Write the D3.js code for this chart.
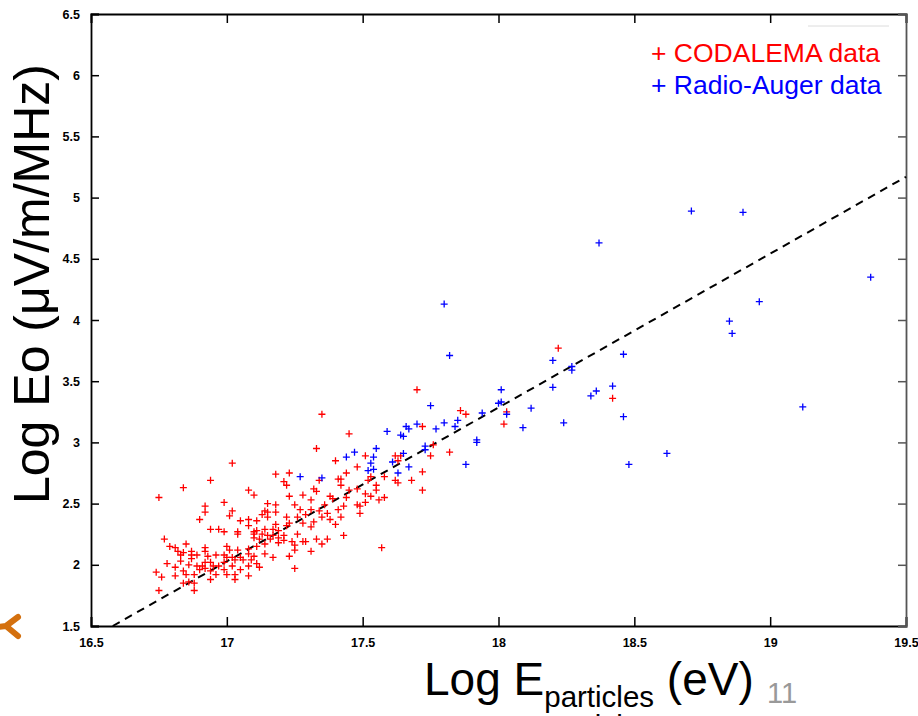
<!DOCTYPE html>
<html lang="en">
<head>
<meta charset="UTF-8" />
<title>Log Eo vs Log E</title>
<style>
  body { margin: 0; background: #fff; }
  text { font-family: Arial, "Liberation Sans", sans-serif; }
</style>
</head>
<body>
<svg width="918" height="716" id="svg"></svg>
<script src="https://cdn.jsdelivr.net/npm/d3@7"></script>
<script>
// data: [log E particles, log Eo]
const codalema = [
  [17.02,2.83],[17.18,2.74],[16.94,2.69],[16.84,2.63],[17.08,2.61],[17.10,2.57],[16.75,2.55],[16.99,2.51],
  [16.92,2.48],[17.15,2.50],[17.18,2.49],[16.92,2.43],[17.02,2.44],[17.14,2.44],[17.01,2.40],[17.15,2.43],
  [17.18,2.43],[17.13,2.41],[17.15,2.39],[16.90,2.37],[17.05,2.36],[17.08,2.37],[17.11,2.36],[17.18,2.33],
  [17.08,2.32],[16.94,2.29],[16.97,2.29],[16.99,2.27],[17.04,2.27],[17.04,2.25],[17.10,2.27],[17.11,2.28],
  [17.14,2.29],[17.17,2.29],[17.19,2.28],[17.10,2.25],[17.13,2.25],[17.15,2.24],[17.17,2.24],[16.77,2.21],
  [17.10,2.22],[17.12,2.21],[17.16,2.21],[17.19,2.22],[16.79,2.15],[16.81,2.14],[16.85,2.17],[16.82,2.11],
  [16.84,2.10],[16.87,2.11],[16.92,2.14],[16.92,2.11],[17.00,2.15],[17.01,2.12],[17.04,2.12],[17.08,2.13],
  [17.11,2.15],[17.14,2.17],[17.19,2.18],[16.83,2.08],[16.87,2.08],[16.89,2.08],[16.93,2.07],[16.96,2.08],
  [16.99,2.08],[17.00,2.06],[17.02,2.06],[17.05,2.06],[17.08,2.09],[17.10,2.07],[17.14,2.09],[17.17,2.06],
  [16.83,2.03],[16.87,2.05],[16.92,2.02],[16.94,2.02],[16.99,2.02],[17.03,2.04],[17.06,2.04],[17.09,2.04],
  [17.11,2.01],[16.78,2.01],[16.86,2.00],[16.89,1.99],[16.91,1.99],[16.95,1.99],[16.97,1.99],[17.02,1.99],
  [17.08,1.99],[17.12,1.98],[16.81,1.98],[16.74,1.94],[16.84,1.95],[16.90,1.96],[16.92,1.97],[16.94,1.95],
  [16.99,1.96],[17.05,1.96],[16.81,1.91],[16.76,1.90],[16.85,1.92],[16.88,1.92],[16.96,1.92],[17.00,1.92],
  [17.03,1.92],[17.08,1.91],[16.84,1.85],[16.86,1.86],[16.94,1.88],[17.03,1.88],[16.75,1.79],[16.88,1.85],
  [16.88,1.79],[17.25,1.97],
  [17.70,3.43],[17.86,3.26],[17.88,3.23],[17.35,3.23],[17.72,3.13],[17.45,3.07],[17.33,2.95],[17.76,2.98],
  [17.82,2.92],[17.51,2.89],[17.62,2.89],[17.64,2.89],[17.75,2.89],[17.40,2.85],[17.63,2.85],[17.48,2.80],
  [17.44,2.75],[17.23,2.75],[17.41,2.70],[17.42,2.70],[17.34,2.69],[17.53,2.72],[17.58,2.72],[17.72,2.76],
  [17.62,2.69],[17.63,2.67],[17.68,2.69],[17.52,2.69],[17.21,2.68],[17.22,2.65],[17.42,2.65],[17.55,2.65],
  [17.45,2.61],[17.48,2.62],[17.55,2.61],[17.32,2.62],[17.33,2.60],[17.72,2.61],[17.23,2.56],[17.28,2.57],
  [17.38,2.56],[17.51,2.58],[17.53,2.56],[17.44,2.55],[17.31,2.53],[17.39,2.54],[17.56,2.53],[17.58,2.55],
  [17.51,2.51],[17.25,2.49],[17.36,2.49],[17.43,2.48],[17.48,2.49],[17.49,2.48],[17.27,2.45],[17.31,2.45],
  [17.34,2.44],[17.41,2.45],[17.49,2.42],[17.37,2.42],[17.22,2.39],[17.26,2.39],[17.29,2.41],[17.35,2.39],
  [17.38,2.37],[17.42,2.39],[17.32,2.35],[17.28,2.34],[17.40,2.33],[17.22,2.32],[17.23,2.34],[17.31,2.31],
  [17.21,2.24],[17.26,2.25],[17.43,2.24],[17.21,2.20],[17.24,2.19],[17.28,2.19],[17.29,2.19],[17.33,2.21],
  [17.37,2.21],[17.35,2.17],[17.25,2.16],[17.25,2.12],[17.31,2.11],[17.57,2.14],[17.23,2.07],
  [18.22,3.77],[18.42,3.36],[18.03,3.25],[18.02,3.15]
]

const auger = [
  [17.75,3.30],[17.85,3.18],[17.80,3.16],[17.70,3.15],[17.66,3.13],[17.67,3.11],[17.77,3.11],[17.84,3.13],
  [17.59,3.09],[17.64,3.06],[17.65,3.05],[17.92,3.02],[17.92,3.00],[17.73,2.97],[17.73,2.94],[17.47,2.92],
  [17.55,2.95],[17.44,2.88],[17.54,2.88],[17.65,2.91],[17.53,2.83],[17.61,2.84],[17.52,2.77],[17.54,2.78],
  [17.27,2.72],[17.35,2.71],[17.63,2.75],[17.67,2.80],
  [17.80,4.13],[17.82,3.71],[18.20,3.67],[18.46,3.72],[18.27,3.62],[18.27,3.59],[18.01,3.43],[18.20,3.45],
  [18.36,3.42],[18.34,3.38],[18.42,3.46],[18.01,3.33],[18.00,3.32],[18.12,3.28],[17.94,3.24],[18.03,3.23],
  [18.46,3.21],[18.09,3.12],[18.24,3.16],[17.88,2.82],[18.48,2.82],
  [18.71,4.89],[18.90,4.88],[19.37,4.35],[18.96,4.15],[18.85,3.99],[18.86,3.89],[19.12,3.29],[18.62,2.91],
  [18.37,4.63]
]

// dashed fit line end points
const fitLine = [[16.58, 1.5], [19.5, 5.17]]

const xTicks = [16.5, 17, 17.5, 18, 18.5, 19, 19.5]
const yTicks = [1.5, 2, 2.5, 3, 3.5, 4, 4.5, 5, 5.5, 6, 6.5]
const legendLabels = ["+ CODALEMA data", "+ Radio-Auger data"]
const legendColors = ["#ff0000", "#0000ff"]

const svg = d3.select("#svg")
const margin = { top: 14, left: 91, right: 12, bottom: 90 }
const width = +svg.attr("width")
const height = +svg.attr("height")

const x = d3.scaleLinear().domain([16.5, 19.5]).range([margin.left, width - margin.right])
const y = d3.scaleLinear().domain([1.5, 6.5]).range([height - margin.bottom, margin.top])

const x0 = x.range()[0], x1 = x.range()[1]
const y0 = y.range()[0], y1 = y.range()[1]

// axes (ticks inward on all four sides)
const tickFmt = d3.format("")
const axisB = d3.axisBottom(x).tickValues(xTicks).tickSize(-9).tickPadding(12).tickFormat(tickFmt)
const axisT = d3.axisTop(x).tickValues(xTicks).tickSize(-9).tickFormat("")
const axisL = d3.axisLeft(y).tickValues(yTicks).tickSize(-8).tickPadding(11).tickFormat(tickFmt)
const axisR = d3.axisRight(y).tickValues(yTicks).tickSize(-8).tickFormat("")

function styleAxis(g, color) {
  g.select(".domain").attr("stroke", color).attr("stroke-width", 1.8)
  g.selectAll(".tick line").attr("stroke", color).attr("stroke-width", 1.5)
  g.selectAll(".tick text")
    .attr("fill", "#000")
    .attr("font-weight", "bold")
    .style("font-size", "12.5px")
}

svg.append("g").attr("transform", `translate(0,${y0})`).call(axisB).call(g => styleAxis(g, "#000"))
svg.append("g").attr("transform", `translate(0,${y1})`).call(axisT).call(g => styleAxis(g, "#000"))
svg.append("g").attr("transform", `translate(${x1},0)`).call(axisR).call(g => styleAxis(g, "#555"))
svg.append("g").attr("transform", `translate(${x0},0)`).call(axisL).call(g => styleAxis(g, "#000"))

// dashed fit line
svg.append("path")
  .datum(fitLine)
  .attr("d", d3.line().x(d => x(d[0])).y(d => y(d[1])))
  .attr("fill", "none")
  .attr("stroke", "#000")
  .attr("stroke-width", 2)
  .attr("stroke-dasharray", "8,6")

// + markers
const arm = 3.5
function plus(d) {
  const cx = x(d[0]), cy = y(d[1])
  return `M${cx - arm},${cy}H${cx + arm}M${cx},${cy - arm}V${cy + arm}`
}
svg.append("g").selectAll("path")
  .data(codalema).join("path")
  .attr("d", plus).attr("stroke", legendColors[0]).attr("stroke-width", 1.3)
svg.append("g").selectAll("path")
  .data(auger).join("path")
  .attr("d", plus).attr("stroke", legendColors[1]).attr("stroke-width", 1.3)

// legend
svg.append("line")
  .attr("x1", 808).attr("x2", 889).attr("y1", 26).attr("y2", 26)
  .attr("stroke", "#dcdcdc").attr("stroke-width", 1)
svg.append("g").selectAll("text")
  .data(legendLabels).join("text")
  .attr("x", 651).attr("y", (d, i) => 62 + i * 32)
  .attr("font-size", 26.5)
  .attr("fill", (d, i) => legendColors[i])
  .text(d => d)

// y axis title
svg.append("text")
  .attr("transform", "translate(49,284) rotate(-90)")
  .attr("text-anchor", "middle")
  .attr("font-size", 50)
  .text("Log Eo (μV/m/MHz)")

// x axis title with subscript
const xt = svg.append("text").attr("x", 424).attr("y", 695).attr("font-size", 46)
xt.append("tspan").text("Log E")
xt.append("tspan").attr("font-size", 29.5).attr("dy", 12).text("particles")
xt.append("tspan").attr("dy", -12).text(" (eV)")

// leftover slide bits
svg.append("text").attr("x", 544).attr("y", 736).attr("font-size", 29.5).text("particles")
svg.append("text").attr("x", 767).attr("y", 703).attr("font-size", 29).attr("fill", "#999").text("11")
svg.append("path")
  .attr("d", "M18,617 L6,626 L18,636 M6,626 L-2,627")
  .attr("fill", "none")
  .attr("stroke", "#d4700e")
  .attr("stroke-width", 6)
  .attr("stroke-linecap", "round")
  .attr("stroke-linejoin", "round")
</script>
</body>
</html>
